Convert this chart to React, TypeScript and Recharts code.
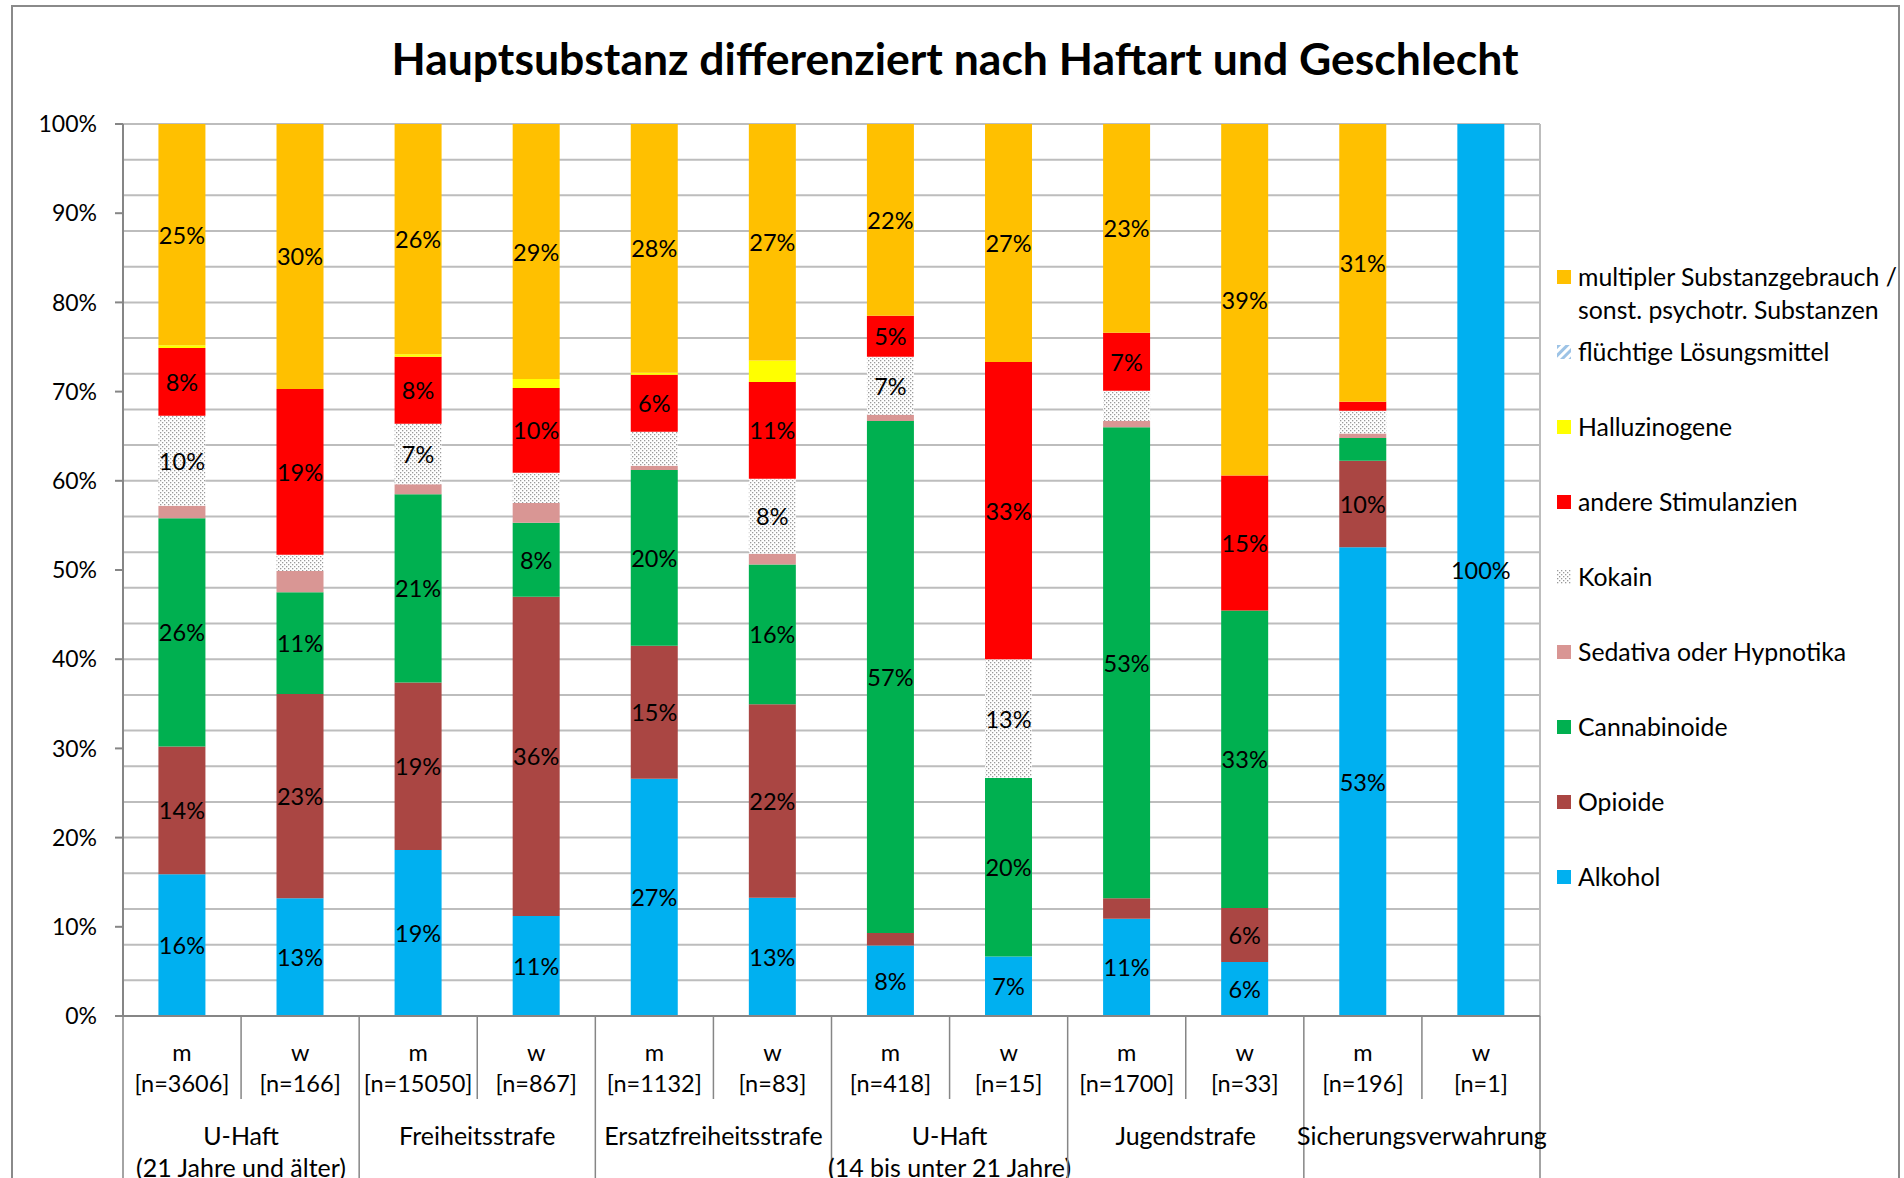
import React from 'react';
import { BarChart, Bar, XAxis, YAxis, CartesianGrid, LabelList, Legend } from 'recharts';

// categories (x axis)
const genders = ['m', 'w', 'm', 'w', 'm', 'w', 'm', 'w', 'm', 'w', 'm', 'w'];
const sampleSizes = [3606, 166, 15050, 867, 1132, 83, 418, 15, 1700, 33, 196, 1];
const groups = [
  ['U-Haft', '(21 Jahre und älter)'],
  ['Freiheitsstrafe'],
  ['Ersatzfreiheitsstrafe'],
  ['U-Haft', '(14 bis unter 21 Jahre)'],
  ['Jugendstrafe'],
  ['Sicherungsverwahrung'],
];

// shares in percent, bottom to top of each stack
const alkohol = [15.9, 13.2, 18.6, 11.2, 26.6, 13.25, 7.9, 6.67, 10.9, 6.06, 52.55, 100];
const opioide = [14.3, 22.9, 18.8, 35.8, 14.9, 21.7, 1.4, 0, 2.3, 6.06, 9.69, 0];
const cannabinoide = [25.6, 11.4, 21.1, 8.3, 19.7, 15.66, 57.4, 20, 52.8, 33.33, 2.55, 0];
const sedativa = [1.4, 2.4, 1.1, 2.2, 0.5, 1.2, 0.7, 0, 0.7, 0, 0.51, 0];
const kokain = [10.1, 1.8, 6.8, 3.4, 3.8, 8.43, 6.5, 13.33, 3.4, 0, 2.55, 0];
const stimulanzien = [7.6, 18.6, 7.5, 9.5, 6.4, 10.84, 4.6, 33.33, 6.5, 15.15, 1.02, 0];
const halluzinogene = [0.3, 0, 0.3, 1.0, 0.2, 2.41, 0, 0, 0, 0, 0, 0];
const loesungsmittel = [0, 0, 0, 0, 0, 0, 0, 0, 0, 0, 0, 0];
const multipel = [24.8, 29.7, 25.8, 28.6, 27.9, 26.5, 21.5, 26.67, 23.4, 39.39, 31.12, 0];

const yTicks = [0, 10, 20, 30, 40, 50, 60, 70, 80, 90, 100];
const gridTicks = [0, 2, 4, 6, 8, 10, 12, 14, 16, 18, 20, 22, 24, 26, 28, 30, 32, 34, 36, 38, 40, 42, 44, 46, 48, 50,
  52, 54, 56, 58, 60, 62, 64, 66, 68, 70, 72, 74, 76, 78, 80, 82, 84, 86, 88, 90, 92, 94, 96, 98, 100];

const series = [
  { key: 'alkohol', name: 'Alkohol', fill: '#00B0F0', values: alkohol },
  { key: 'opioide', name: 'Opioide', fill: '#AA4643', values: opioide },
  { key: 'cannabinoide', name: 'Cannabinoide', fill: '#00B050', values: cannabinoide },
  { key: 'sedativa', name: 'Sedativa oder Hypnotika', fill: '#D99694', values: sedativa },
  { key: 'kokain', name: 'Kokain', fill: 'url(#patKokain)', values: kokain },
  { key: 'stimulanzien', name: 'andere Stimulanzien', fill: '#FF0000', values: stimulanzien },
  { key: 'halluzinogene', name: 'Halluzinogene', fill: '#FFFF00', values: halluzinogene },
  { key: 'loesungsmittel', name: 'flüchtige Lösungsmittel', fill: 'url(#patLoesung)', values: loesungsmittel },
  { key: 'multipel', name: 'multipler Substanzgebrauch / sonst. psychotr. Substanzen', fill: '#FFC000', values: multipel },
];

const data = genders.map((g, i) => {
  const row: any = { label: `${g} [n=${sampleSizes[i]}]` };
  series.forEach((s) => { row[s.key] = s.values[i]; });
  return row;
});

const FONT = 'Lato, "Open Sans", sans-serif';
const AXIS = '#868686';
const PLOT_LEFT = 123;
const PLOT_RIGHT = 1540;
const BAND = (PLOT_RIGHT - PLOT_LEFT) / genders.length;

const CategoryTick = (props: any) => {
  const { x, y, payload } = props;
  const i = payload.index;
  const left = x - BAND / 2;
  const groupStart = i % 2 === 0;
  return (
    <g>
      <line x1={left} x2={left} y1={y} y2={groupStart ? y + 200 : y + 83} stroke={AXIS} strokeWidth={1.5} />
      {i === genders.length - 1 && (
        <line x1={x + BAND / 2} x2={x + BAND / 2} y1={y} y2={y + 200} stroke={AXIS} strokeWidth={1.5} />
      )}
      <text x={x} y={y + 36} textAnchor="middle" dominantBaseline="central" fontSize={23.5} fill="#000">{genders[i]}</text>
      <text x={x} y={y + 67} textAnchor="middle" dominantBaseline="central" fontSize={23.5} fill="#000">[n={sampleSizes[i]}]</text>
      {!groupStart && groups[(i - 1) / 2].map((line, k) => (
        <text key={k} x={left} y={y + 119 + k * 32} textAnchor="middle" dominantBaseline="central" fontSize={25} fill="#000">{line}</text>
      ))}
    </g>
  );
};

const renderLabel = (props: any) => {
  const { x, y, width, height, value } = props;
  if (value == null || value < 4.5) return null;
  return (
    <text x={x + width / 2} y={y + height / 2} textAnchor="middle" dominantBaseline="central" fontSize={23.5} fill="#000">
      {Math.round(value)}%
    </text>
  );
};

const LegendContent = () => (
  <div style={{ position: 'relative', width: 345, height: 680, fontFamily: FONT }}>
    {[...series].reverse().map((s, i) => (
      <div key={s.key} style={{ position: 'absolute', left: 0, top: i * 75, display: 'flex', alignItems: 'flex-start' }}>
        <svg width={14} height={14} style={{ marginTop: 10, flexShrink: 0 }}>
          <rect width={14} height={14} fill={s.fill} />
        </svg>
        <span style={{ marginLeft: 7, fontSize: 24.8, lineHeight: '33px', color: '#000', whiteSpace: 'pre' }}>
          {s.name.replace(' / ', ' /\n')}
        </span>
      </div>
    ))}
  </div>
);

export default function App() {
  return (
    <div style={{ position: 'fixed', left: 0, top: 0, width: 1904, height: 1178, background: '#fff', overflow: 'hidden', fontFamily: FONT }}>
      <div style={{ position: 'absolute', left: 11, top: 5, width: 1885, height: 1300, border: '2px solid #8a8a8a' }} />
      <div style={{ position: 'absolute', left: 155, top: 32, width: 1600, textAlign: 'center', fontSize: 44.5, fontWeight: 700, lineHeight: '52px', color: '#000' }}>
        Hauptsubstanz differenziert nach Haftart und Geschlecht
      </div>
      <div style={{ position: 'absolute', left: 0, top: 0 }}>
        <BarChart width={1904} height={1178} data={data} margin={{ top: 124, right: 1904 - PLOT_RIGHT, bottom: 0, left: 0 }} barCategoryGap="30%">
          <defs>
            <pattern id="patKokain" width="4" height="4" patternUnits="userSpaceOnUse">
              <rect width="4" height="4" fill="#fff" />
              <rect x="0" y="0" width="1.3" height="1.3" fill="#9a9a9a" />
              <rect x="2" y="2" width="1.3" height="1.3" fill="#9a9a9a" />
            </pattern>
            <pattern id="patLoesung" width="6" height="6" patternUnits="userSpaceOnUse" patternTransform="rotate(45)">
              <rect width="6" height="6" fill="#fff" />
              <rect width="3" height="6" fill="#9DC3E6" />
            </pattern>
          </defs>
          <CartesianGrid yAxisId="grid" vertical={true} verticalPoints={[PLOT_RIGHT]} stroke="#BDBDBD" strokeWidth={2} />
          <YAxis yAxisId="grid" hide domain={[0, 100]} ticks={gridTicks} allowDataOverflow type="number" />
          <YAxis
            domain={[0, 100]}
            ticks={yTicks}
            allowDataOverflow
            type="number"
            width={PLOT_LEFT}
            tickFormatter={(v) => `${v}%`}
            tickSize={8}
            tickMargin={18}
            axisLine={{ stroke: AXIS, strokeWidth: 2 }}
            tickLine={{ stroke: AXIS, strokeWidth: 2 }}
            tick={{ fill: '#000', fontSize: 23 }}
          />
          <XAxis
            dataKey="label"
            interval={0}
            height={162}
            tickSize={0}
            tickMargin={0}
            tickLine={false}
            axisLine={{ stroke: AXIS, strokeWidth: 2 }}
            tick={CategoryTick}
          />
          {series.map((s) => (
            <Bar key={s.key} dataKey={s.key} name={s.name} stackId="a" fill={s.fill} isAnimationActive={false}>
              <LabelList dataKey={s.key} content={renderLabel} />
            </Bar>
          ))}
          <Legend
            layout="vertical"
            align="center"
            verticalAlign="middle"
            content={LegendContent}
            wrapperStyle={{ left: 1557, top: 260, width: 345, height: 680 }}
          />
        </BarChart>
      </div>
    </div>
  );
}
